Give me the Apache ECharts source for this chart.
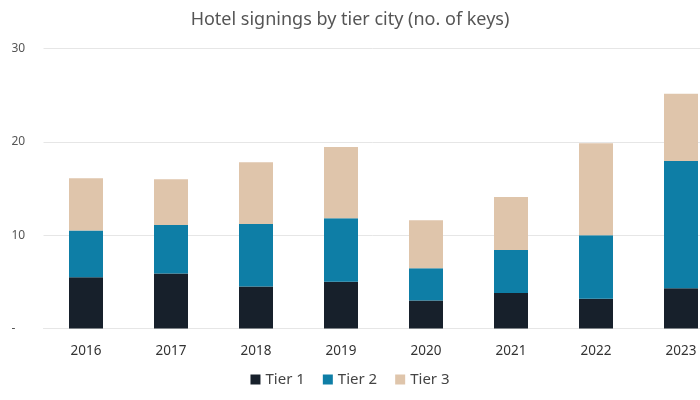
<!DOCTYPE html>
<html><head><meta charset="utf-8">
<script src="https://cdn.jsdelivr.net/npm/echarts@6/dist/echarts.min.js"></script>
<style>html,body{margin:0;padding:0;background:#fff}#c{width:700px;height:400px}</style>
</head><body><div id="c"></div>
<script>
const years = ['2016','2017','2018','2019','2020','2021','2022','2023'];
const tier1 = [5.5, 5.9, 4.5, 5.0, 3.0, 3.8, 3.2, 4.3];
const tier2 = [5.0, 5.2, 6.7, 6.8, 3.45, 4.6, 6.8, 13.65];
const tier3 = [5.6, 4.9, 6.6, 7.65, 5.15, 5.7, 9.85, 7.2];
const yTicks = [0, 10, 20, 30];
const seriesNames = ['Tier 1', 'Tier 2', 'Tier 3'];
const colors = ['#17202b', '#0e7ea6', '#dfc5ab'];
const font = 'Noto Sans';
const chart = echarts.init(document.getElementById('c'), null, {renderer: 'canvas'});
const mk = (name, data, i) => ({
  name, type: 'bar', stack: 'all', data, barWidth: 34,
  itemStyle: {color: colors[i]}
});
chart.setOption({
  animation: false,
  textStyle: {fontFamily: font},
  title: {
    text: 'Hotel signings by tier city (no. of keys)', left: 'center', top: 6,
    textStyle: {fontFamily: font, fontSize: 18, fontWeight: 'normal', color: '#555'}
  },
  legend: {
    data: seriesNames, bottom: 8, left: 'center', icon: 'rect',
    itemWidth: 10, itemHeight: 10, itemGap: 18,
    textStyle: {fontFamily: font, fontSize: 15, color: '#444'}
  },
  grid: {left: 43.5, width: 680, top: 48.5, height: 280, containLabel: false, outerBoundsMode: 'none'},
  xAxis: {
    type: 'category', data: years,
    axisLine: {show: true, lineStyle: {color: '#e6e6e6'}},
    axisTick: {show: false},
    axisLabel: {fontFamily: font, fontSize: 13.5, color: '#333', margin: 16}
  },
  yAxis: {
    type: 'value', min: yTicks[0], max: yTicks[yTicks.length - 1], interval: 10,
    axisLine: {show: false}, axisTick: {show: false},
    splitLine: {lineStyle: {color: '#e6e6e6'}},
    axisLabel: {
      fontFamily: font, fontSize: 12, color: '#555', align: 'left', margin: 32,
      formatter: v => v === 0 ? '-' : String(v)
    }
  },
  series: [mk(seriesNames[0], tier1, 0), mk(seriesNames[1], tier2, 1), mk(seriesNames[2], tier3, 2)]
});
</script></body></html>
